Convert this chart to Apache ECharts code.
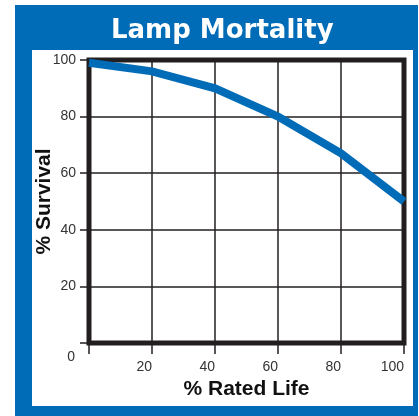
<!DOCTYPE html>
<html>
<head>
<meta charset="utf-8">
<title>Lamp Mortality</title>
<script src="https://cdn.jsdelivr.net/npm/echarts@6/dist/echarts.min.js"></script>
<style>
  html, body { margin: 0; padding: 0; background: #fff; }
  #main { width: 419px; height: 416px; }
</style>
</head>
<body>
<div id="main"></div>
<script>
// rated life (%) and survival (%)
var ratedLife = [0, 20, 40, 60, 80, 100];
var survival = [99, 96, 90, 80, 67, 50];

var blue = '#006bb6';
var ink = '#231f20';

var myChart = echarts.init(document.getElementById('main'));

var option = {
  backgroundColor: '#fff',
  animation: false,
  graphic: [
    { type: 'rect', z: -10, shape: { x: 15, y: 5, width: 403, height: 411 }, style: { fill: blue } },
    { type: 'rect', z: -9, shape: { x: 32, y: 50, width: 381, height: 356 }, style: { fill: '#fff' } }
  ],
  title: {
    text: 'Lamp Mortality',
    left: 106,
    top: 13,
    textStyle: { color: '#fff', fontFamily: 'DejaVu Sans', fontWeight: 'bold', fontSize: 26 }
  },
  grid: {
    left: 89, right: 15, top: 60, bottom: 73,
    show: true, borderColor: ink, borderWidth: 5, backgroundColor: 'transparent'
  },
  xAxis: {
    type: 'value', min: 0, max: 100, interval: 20,
    name: '% Rated Life', nameLocation: 'middle', nameGap: 36, nameMoveOverlap: false,
    nameTextStyle: { color: '#111', fontFamily: 'Liberation Sans', fontWeight: 'bold', fontSize: 21 },
    axisLine: { show: false },
    axisTick: { show: true, length: 11, lineStyle: { color: ink, width: 1.5 } },
    axisLabel: {
      margin: 17, align: 'right', color: '#333', fontFamily: 'Liberation Sans', fontSize: 14,
      formatter: function (v) { return v === 0 ? '' : String(v); }
    },
    splitLine: { show: true, lineStyle: { color: ink, width: 1.5 } }
  },
  yAxis: {
    type: 'value', min: 0, max: 100, interval: 20,
    name: '% Survival', nameLocation: 'middle', nameGap: 34, nameMoveOverlap: false,
    nameTextStyle: { color: '#111', fontFamily: 'Liberation Sans', fontWeight: 'bold', fontSize: 21 },
    axisLine: { show: false },
    axisTick: { show: true, length: 9, lineStyle: { color: ink, width: 1.5 } },
    axisLabel: {
      margin: 13, color: '#333', fontFamily: 'Liberation Sans', fontSize: 14,
      formatter: function (v) { return v === 0 ? '{z|0}' : String(v); },
      rich: { z: { padding: [28, 1, 0, 0], fontSize: 14, color: '#333', fontFamily: 'Liberation Sans' } }
    },
    splitLine: { show: true, lineStyle: { color: ink, width: 1.5 } }
  },
  series: [{
    type: 'line',
    data: ratedLife.map(function (x, i) { return [x, survival[i]]; }),
    showSymbol: false,
    symbol: 'none',
    clip: true,
    lineStyle: { color: blue, width: 8, cap: 'butt', join: 'miter' }
  }]
};

myChart.setOption(option);
</script>
</body>
</html>
